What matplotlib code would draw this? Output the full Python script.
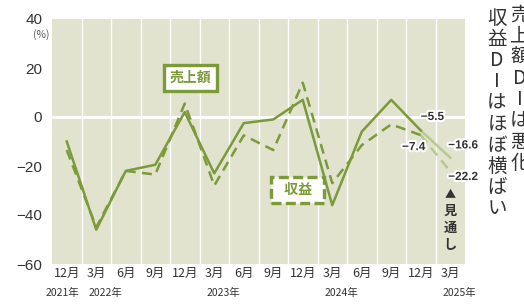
import matplotlib
matplotlib.use('Agg')
import matplotlib.pyplot as plt
import matplotlib.patheffects as pe
from matplotlib.transforms import blended_transform_factory

plt.rcParams['font.family'] = ['Noto Sans CJK JP', 'DejaVu Sans']

# データ
months = ['12月', '3月', '6月', '9月', '12月', '3月', '6月', '9月', '12月',
          '3月', '6月', '9月', '12月', '3月']
years = ['2021年', '2022年', '', '', '', '2023年', '', '', '', '2024年', '', '', '', '2025年']
sales = [-10, -46, -22, -19.5, 2, -23, -2.5, -1, 7, -36, -6, 7, -5.5, -16.6]
profit = [-13.5, -45, -22, -23.5, 5.5, -28, -7.5, -13.5, 14, -27, -11.5, -3, -7.4, -22.2]
yticks = [40, 20, 0, -20, -40, -60]

GREEN = '#7b9a38'
LIGHT = '#b7c98e'
BG = '#e1e3cf'
DARK = '#333333'

fig = plt.figure(figsize=(5.24, 3.05), dpi=100)
ax = fig.add_axes([52 / 524, 1 - 264 / 305, (465 - 52) / 524, (264 - 19) / 305])
ax.set_facecolor(BG)
for s in ax.spines.values():
    s.set_visible(False)

n = len(months)
x = list(range(n))
ax.set_xlim(-0.5, n - 0.5)
ax.set_ylim(-60, 40)

for i in range(n - 1):
    ax.axvline(i + 0.5, color='white', lw=1, zorder=1)
ax.axhline(0, color='white', lw=2, zorder=1)

# 実績
ax.plot(x[:-1], sales[:-1], color=GREEN, lw=1.8, zorder=3)
ax.plot(x[:-1], profit[:-1], color=GREEN, lw=1.8, ls=(0, (4, 2.5)), zorder=3)
# 見通し
ax.plot(x[-2:], sales[-2:], color=LIGHT, lw=1.8, zorder=2)
ax.plot(x[-2:], profit[-2:], color=LIGHT, lw=1.8, ls=(0, (4, 2.5)), zorder=2)


def fmt(v):
    return f'{v:.1f}'.replace('-', '−')


halo = [pe.withStroke(linewidth=3, foreground='white')]
lab = dict(fontsize=8.5, color=DARK, fontweight='bold', path_effects=halo, zorder=5,
           va='center', family=['Liberation Sans', 'DejaVu Sans'])
ax.text(12.0, 0, fmt(sales[-2]), ha='left', **lab)
ax.text(12.15, -12.3, fmt(profit[-2]), ha='right', **lab)
ax.text(12.93, -11.6, fmt(sales[-1]), ha='left', clip_on=False, **lab)
ax.text(12.93, -24.5, fmt(profit[-1]), ha='left', clip_on=False, **lab)

# 見通し注記
ax.text(13.0, -32, '▲', ha='center', va='center', fontsize=8, color=DARK)
for k, ch in enumerate('見通し'):
    ax.text(13.0, -38.4 - k * 6.9, ch, ha='center', va='center', fontsize=9.5,
            fontweight='bold', color=DARK)

# 凡例ボックス
ax.text(4.2, 15.9, '売上額', ha='center', va='center', fontsize=10, fontweight='bold',
        color=GREEN, zorder=6,
        bbox=dict(boxstyle='square,pad=0.4', fc='white', ec=GREEN, lw=2.4))
ax.text(7.83, -29.8, '  収益  ', ha='center', va='center', fontsize=10, fontweight='bold',
        color=GREEN, zorder=6,
        bbox=dict(boxstyle='square,pad=0.45', fc='white', ec=GREEN, lw=2.4,
                  ls=(0, (3, 1.3))))

# 軸ラベル
ax.set_xticks([])
ax.set_yticks(yticks)
ax.set_yticklabels([str(v).replace('-', '−') for v in yticks], fontsize=11, color=DARK,
                   family='Liberation Sans')
ax.tick_params(axis='y', length=0, pad=7)
ax.text(-0.85, 33.5, '(%)', ha='center', va='center', fontsize=7.5, color='#555555',
        clip_on=False)

tr = blended_transform_factory(ax.transData, fig.transFigure)
for i in range(n):
    ax.text(i, 1 - 273 / 305, months[i], transform=tr, ha='center', va='center',
            fontsize=9, color=DARK)
    if years[i]:
        off = -0.15 if i == 0 else 0.3
        ax.text(i + off, 1 - 293 / 305, years[i], transform=tr, ha='center', va='center',
                fontsize=7.5, color=DARK)

# 縦書き見出し
col2 = '収益DIはほぼ横ばい'
col1 = '売上額DIは悪化'
for k, ch in enumerate(col2):
    fig.text(497 / 524, 1 - (18 + k * 21.2) / 305, ch, ha='center', va='center',
             fontsize=14, color=DARK)
for k, ch in enumerate(col1):
    fig.text(520 / 524, 1 - (15 + k * 21.2) / 305, ch, ha='center', va='center',
             fontsize=14, color=DARK)

fig.savefig('out.png', dpi=100)
